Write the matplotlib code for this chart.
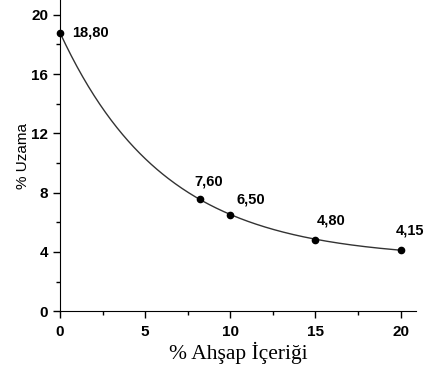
import numpy as np
import matplotlib.pyplot as plt
from matplotlib.ticker import MultipleLocator

# Ahşap içeriği (%) ve uzama (%) değerleri
wood_content = np.array([0, 8.2, 10, 15, 20])
elongation = np.array([18.80, 7.60, 6.50, 4.80, 4.15])
point_labels = ['18,80', '7,60', '6,50', '4,80', '4,15']

# Üstel azalma eğrisi: y = A*exp(-x/t) + y0
best = None
for t in np.linspace(1, 20, 400):
    M = np.column_stack([np.exp(-wood_content / t), np.ones_like(wood_content)])
    coef, res, _, _ = np.linalg.lstsq(M, elongation, rcond=None)
    err = np.sum((M @ coef - elongation) ** 2)
    if best is None or err < best[0]:
        best = (err, t, coef)
_, t_fit, (A_fit, y0_fit) = best
x_fit = np.linspace(0, 20, 300)
y_fit = A_fit * np.exp(-x_fit / t_fit) + y0_fit

fig = plt.figure(figsize=(4.28, 3.74), dpi=100)
ax = fig.add_axes([0.140, 0.168, 0.832, 0.832])

ax.plot(x_fit, y_fit, color='#333333', lw=1.0)
ax.plot(wood_content, elongation, 'o', color='black', ms=4.5, clip_on=False, zorder=3)

# etiket konumları (piksel kaydırma)
offsets = [(12, 0), (-5, 10), (6, 8), (1, 13), (-5, 12)]
for x, y, lab, off in zip(wood_content, elongation, point_labels, offsets):
    ax.annotate(lab, (x, y), xytext=off, textcoords='offset pixels',
                fontsize=10.5, fontweight='bold', family='Liberation Sans',
                ha='left', va='center' if off[1] == 0 else 'bottom')

ax.set_xlim(0, 20.9)
ax.set_ylim(0, 21)
ax.xaxis.set_major_locator(MultipleLocator(5))
ax.xaxis.set_minor_locator(MultipleLocator(2.5))
ax.yaxis.set_major_locator(MultipleLocator(4))
ax.yaxis.set_minor_locator(MultipleLocator(2))
ax.spines['top'].set_visible(False)
ax.spines['right'].set_visible(False)
ax.tick_params(which='major', direction='out', length=5, width=1)
ax.tick_params(which='minor', direction='out', length=3, width=1)
ax.tick_params(axis='x', pad=5)
for lbl in ax.get_xticklabels() + ax.get_yticklabels():
    lbl.set_fontweight('bold')
    lbl.set_family('Liberation Sans')
    lbl.set_fontsize(11)

ax.set_xlabel('% Ahşap İçeriği', family='Liberation Serif', fontsize=15.5, labelpad=2)
ax.set_ylabel('% Uzama', family='Liberation Sans', fontsize=11, labelpad=1)

fig.savefig('out.png', dpi=100)
